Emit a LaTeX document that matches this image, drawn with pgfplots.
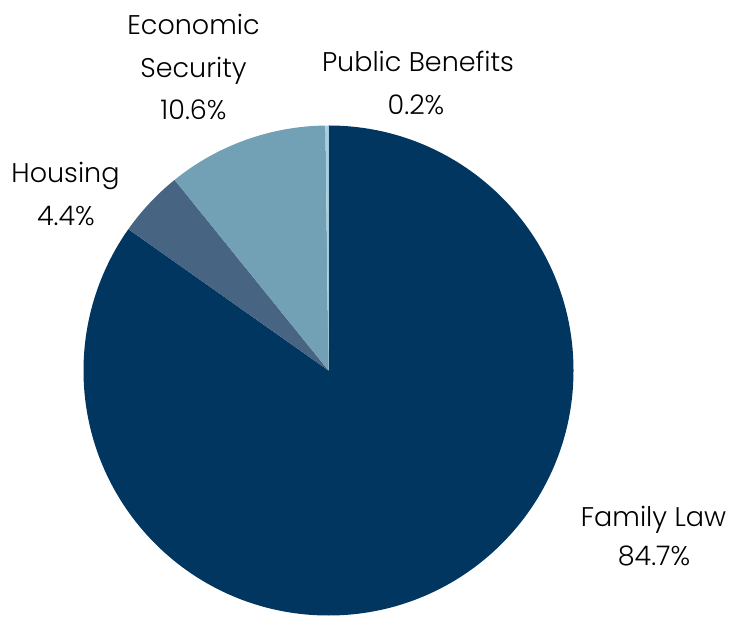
\documentclass[border=0pt]{standalone}
\usepackage{pgfplots}
\pgfplotsset{compat=1.18}
\usepackage{pgfplotstable}
\usepackage{fontspec}
\setmainfont{Poppins Light}

\definecolor{pie0}{HTML}{003660}
\definecolor{pie1}{HTML}{476582}
\definecolor{pie2}{HTML}{72A0B4}
\definecolor{pie3}{HTML}{A5D0E0}

\tikzset{lbl/.style={inner sep=0pt, anchor=base,
    font=\fontsize{27}{32}\selectfont}}

% share of cases by area (%)
\pgfplotstableread{
label value
{Family Law} 84.7
Housing 4.4
{Economic Security} 10.6
{Public Benefits} 0.2
}\piedata

% total, then start/end angle of each slice (clockwise from the top)
\gdef\total{0}
\pgfplotstableforeachcolumnelement{value}\of\piedata\as\val{%
  \pgfmathsetmacro\t{\total+\val}\xdef\total{\t}}
\gdef\cum{0}
\pgfplotstableforeachcolumnelement{value}\of\piedata\as\val{%
  \pgfmathsetmacro\a{90-\cum/\total*360}%
  \pgfmathsetmacro\c{\cum+\val}%
  \pgfmathsetmacro\b{90-\c/\total*360}%
  \expandafter\xdef\csname sa\pgfplotstablerow\endcsname{\a}%
  \expandafter\xdef\csname ea\pgfplotstablerow\endcsname{\b}%
  \xdef\cum{\c}}

\begin{document}
\begin{tikzpicture}
  \begin{axis}[
      hide axis, scale only axis,
      at={(0pt,0pt)}, anchor=south west,
      width=731pt, height=616pt,
      xmin=0, xmax=731, ymin=0, ymax=616,
      clip=false,
    ]
    \pgfplotsinvokeforeach{0,...,3}{
      \fill[pie#1] (axis cs:328.5,245.5) -- ++(\csname sa#1\endcsname:245pt)
        arc[start angle=\csname sa#1\endcsname,
            end angle=\csname ea#1\endcsname, radius=245pt] -- cycle;
    }
    \node[lbl] at (axis cs:193.5,581) {Economic};
    \node[lbl] at (axis cs:193.5,538) {Security};
    \node[lbl] at (axis cs:193.5,496) {10.6\%};
    \node[lbl] at (axis cs:418,544) {Public Benefits};
    \node[lbl] at (axis cs:416,501) {0.2\%};
    \node[lbl] at (axis cs:65.5,433) {Housing};
    \node[lbl] at (axis cs:66,390) {4.4\%};
    \node[lbl] at (axis cs:653.5,89) {Family Law};
    \node[lbl] at (axis cs:654,51) {84.7\%};
  \end{axis}
  \pgfresetboundingbox
  \useasboundingbox (0pt,0pt) rectangle (731pt,616pt);
\end{tikzpicture}
\end{document}
